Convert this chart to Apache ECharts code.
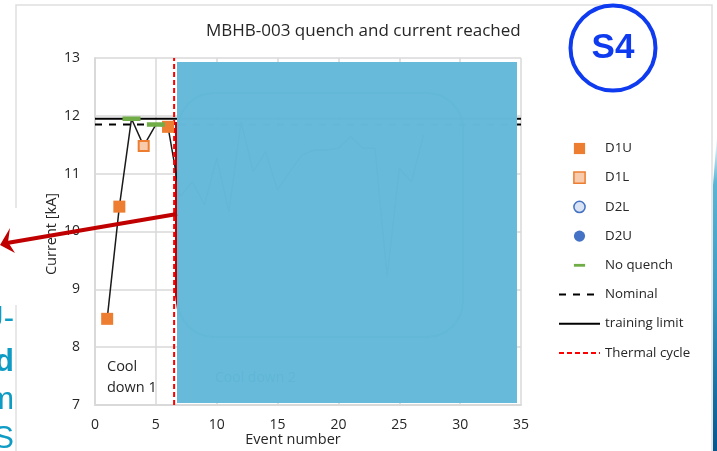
<!DOCTYPE html>
<html>
<head>
<meta charset="utf-8">
<style>
  html, body { margin: 0; padding: 0; background: #fff; }
  #chart { width: 717px; height: 451px; }
</style>
<script src="https://cdn.jsdelivr.net/npm/echarts@6/dist/echarts.min.js"></script>
</head>
<body>
<div id="chart"></div>
<script>
// values
var d1u = [[1, 8.49], [2, 10.43], [6, 11.81]];
var d1l = [[4, 11.48]];
var d2l = [];
var d2u = [];
var noQuench = [[3, 11.95], [5, 11.85]];
var nominal = [[0, 11.85], [35, 11.85]];
var trainingLimit = [[0, 11.95], [35, 11.95]];
var thermalCycle = [[6.5, 7], [6.5, 13]];
// the run order line, mostly behind the blue panel
var eventNumbers = [1, 2, 3, 4, 5, 6, 7, 8, 9, 10, 11, 12, 13, 14, 15, 16, 17, 18, 19, 20, 21, 22, 23, 24, 25, 26, 27];
var eventCurrent = [8.49, 10.43, 11.95, 11.48, 11.85, 11.81, 10.6, 10.86, 10.46, 11.27, 10.34, 11.9, 11.03, 11.38, 10.72, 11.03, 11.32, 11.41, 11.41, 11.44, 11.64, 11.44, 11.44, 9.22, 11.09, 10.86, 11.67];

var FONT = '"Open Sans"';
var GREY = "#d9d9d9";
var DASH_SYMBOL = "path://M0 0L0 0M0 4.5H12V7.5H0ZM12 12L12 12";

var myChart = echarts.init(document.getElementById("chart"));

function markerSeries(name, data, symbol, size, fill, border) {
  return {
    name: name,
    type: "line",
    data: data,
    symbol: symbol,
    symbolSize: size,
    z: 4,
    lineStyle: { width: 0, opacity: 0 },
    itemStyle: { color: fill, borderColor: border, borderWidth: border ? 2 : 0 },
  };
}

function lineSeries(name, data, color, width, dash) {
  return {
    name: name,
    type: "line",
    data: data,
    symbol: "none",
    lineStyle: { color: color, width: width, type: dash },
    itemStyle: { color: color },
  };
}

var option = {
  animation: false,
  textStyle: { fontFamily: FONT },
  title: {
    text: "MBHB-003 quench and current reached",
    left: 201,
    top: 18,
    textStyle: { fontFamily: FONT, fontSize: 17, fontWeight: "normal", color: "#262626" },
  },
  grid: { left: 95, right: 196, top: 58, bottom: 46, outerBoundsMode: "none" },
  legend: {
    orient: "vertical",
    left: 553,
    top: 137,
    itemWidth: 41,
    itemHeight: 14,
    itemGap: 16.2,
    textStyle: { fontFamily: FONT, fontSize: 13.3, color: "#262626" },
    data: [
      "D1U",
      { name: "D1L", itemStyle: { borderWidth: 1.5 } },
      { name: "D2L", itemStyle: { borderWidth: 1.5 } },
      "D2U",
      "No quench",
      { name: "Nominal", itemStyle: { opacity: 0 } },
      { name: "training limit", itemStyle: { opacity: 0 } },
      { name: "Thermal cycle", itemStyle: { opacity: 0 } },
    ],
  },
  xAxis: {
    type: "value",
    min: 0,
    max: 35,
    interval: 5,
    name: "Event number",
    nameLocation: "middle",
    nameMoveOverlap: false,
    nameGap: 27,
    nameTextStyle: { fontFamily: FONT, fontSize: 14.5, color: "#262626", padding: [0, 30, 0, 0] },
    axisLine: { lineStyle: { color: GREY, width: 2 } },
    axisTick: { show: false },
    axisLabel: { fontFamily: FONT, fontSize: 14, color: "#262626", margin: 13 },
    splitLine: { lineStyle: { color: GREY, width: 1.5 } },
  },
  yAxis: {
    type: "value",
    min: 7,
    max: 13,
    interval: 1,
    name: "Current [kA]",
    nameLocation: "middle",
    nameMoveOverlap: false,
    nameGap: 36,
    nameTextStyle: { fontFamily: FONT, fontSize: 14.5, color: "#262626", padding: [0, 5, 0, 0] },
    axisLine: { show: true, lineStyle: { color: GREY, width: 2 } },
    axisTick: { show: false },
    axisLabel: { fontFamily: FONT, fontSize: 14, color: "#262626", margin: 15, padding: [3, 0, 0, 0] },
    splitLine: { lineStyle: { color: GREY, width: 1.5 } },
  },
  series: [
    {
      name: "Events",
      type: "line",
      data: eventNumbers.map(function (n, i) { return [n, eventCurrent[i]]; }),
      symbol: "none",
      z: 3,
      lineStyle: { color: "#1a1a1a", width: 1.5 },
    },
    lineSeries("Nominal", nominal, "#000", 2, [7, 7]),
    lineSeries("training limit", trainingLimit, "#000", 2, "solid"),
    lineSeries("Thermal cycle", thermalCycle, "#ff0000", 2, [5, 3]),
    markerSeries("D1U", d1u, "rect", 12, "#ed7d31"),
    markerSeries("D1L", d1l, "rect", 10, "#f8cbad", "#ed7d31"),
    markerSeries("D2L", d2l, "circle", 11, "#dae3f3", "#4472c4"),
    markerSeries("D2U", d2u, "circle", 12, "#4472c4"),
    markerSeries("No quench", noQuench, DASH_SYMBOL, 18, "#70ad47"),
  ],
  graphic: [
    // slide frame around the pasted plot
    { type: "polyline", z: 0, shape: { points: [[16, 208], [16, 5], [712, 5], [712, 451]] }, style: { stroke: "#e0e0e0", lineWidth: 1.5, fill: null } },
    { type: "polyline", z: 0, shape: { points: [[16, 305], [16, 451]] }, style: { stroke: "#e0e0e0", lineWidth: 1.5, fill: null } },
    // slide edge on the right
    {
      type: "polygon",
      z: 0,
      shape: { points: [[717, 135], [717, 451], [713, 451], [713, 185]] },
      style: {
        fill: {
          type: "linear", x: 0, y: 0, x2: 0, y2: 1,
          colorStops: [
            { offset: 0, color: "#ffffff" },
            { offset: 0.15, color: "#5bb5d5" },
            { offset: 0.5, color: "#3a9ac5" },
            { offset: 1, color: "#04568f" },
          ],
        },
      },
    },
    // cut off slide text on the left
    { type: "text", z: 1, style: { x: 14, y: 304, text: "U-", textAlign: "right", fill: "#0e9cc5", font: '31px "Liberation Sans"' } },
    { type: "text", z: 1, style: { x: 14, y: 347, text: "d", textAlign: "right", fill: "#0e9cc5", font: 'bold 31px "Liberation Sans"' } },
    { type: "text", z: 1, style: { x: 14, y: 385, text: "m", textAlign: "right", fill: "#0e9cc5", font: '31px "Liberation Sans"' } },
    { type: "text", z: 1, style: { x: 14, y: 424, text: "S", textAlign: "right", fill: "#0e9cc5", font: '31px "Liberation Sans"' } },
    // thick red bar under the panel
    { type: "polygon", z: 1, shape: { points: [[175, 122], [177, 122], [177, 310], [175, 296]] }, style: { fill: "#c00000" } },
    // blue panel
    { type: "rect", z: 10, shape: { x: 177, y: 62, width: 340, height: 341 }, style: { fill: "#65b9d9", opacity: 0.99 } },
    { type: "rect", z: 11, shape: { x: 178, y: 93, width: 285, height: 244, r: 36 }, style: { fill: null, stroke: "#63b8d8", lineWidth: 2 } },
    { type: "text", z: 11, style: { x: 215, y: 371, text: "Cool down 2", fill: "#61b6d7", font: '14px "Open Sans"' } },
    // arrow
    { type: "line", z: 12, shape: { x1: 177, y1: 214, x2: 7, y2: 243 }, style: { stroke: "#c00000", lineWidth: 4 } },
    { type: "polygon", z: 12, shape: { points: [[0, 245], [10, 228], [8, 242], [15, 253]] }, style: { fill: "#c00000" } },
    // notes
    { type: "text", z: 5, style: { x: 107, y: 356, text: "Cool\ndown 1", fill: "#262626", font: '14.5px "Open Sans"', lineHeight: 21 } },
    { type: "circle", z: 5, shape: { cx: 613, cy: 48, r: 42.5 }, style: { fill: "#fff", stroke: "#0f3bf0", lineWidth: 4 } },
    { type: "text", z: 6, style: { x: 613, y: 48, text: "S4", textAlign: "center", textVerticalAlign: "middle", fill: "#0f3bf0", font: 'bold 35px "Liberation Sans"' } },
  ],
};

myChart.setOption(option);
</script>
</body>
</html>
